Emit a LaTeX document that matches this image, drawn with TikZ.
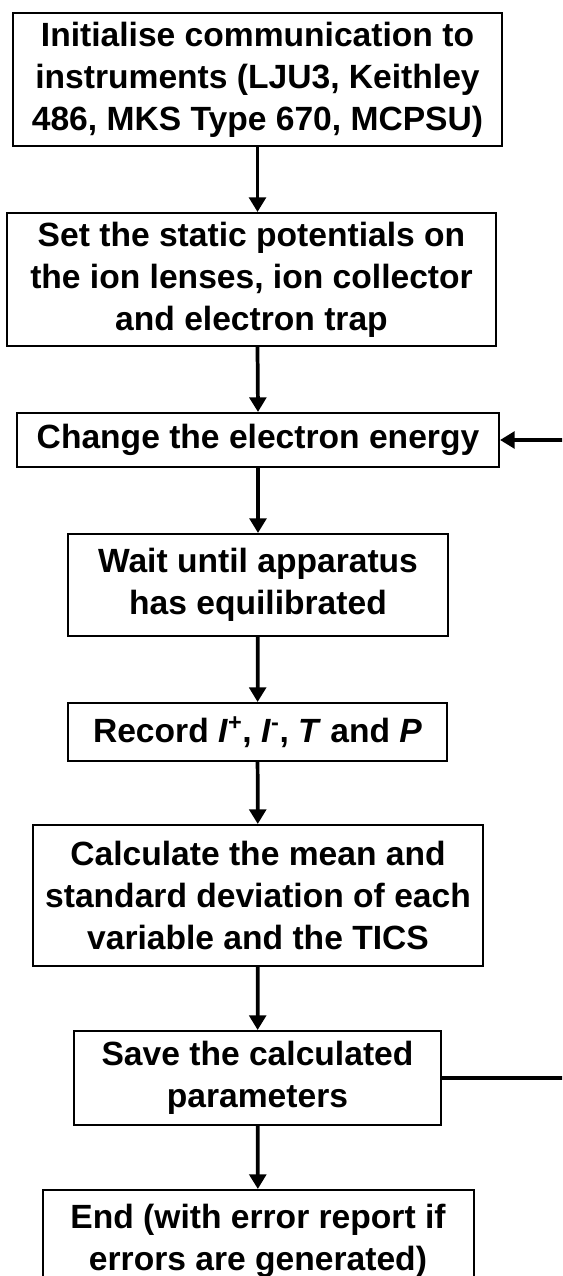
\documentclass[tikz,border=0pt]{standalone}
\usepackage{fontspec}
\setmainfont{Liberation Sans}
\usetikzlibrary{arrows.meta}

\begin{document}
\begin{tikzpicture}[x=0.75pt, y=-0.75pt,
  st/.style={draw=black, line width=1.5pt, align=center, inner sep=0pt,
    font=\fontsize{25.2}{31.5}\selectfont\bfseries},
  arr/.style={-{Triangle[length=11pt,width=12.5pt]}, line width=2.8pt}]
\useasboundingbox (0,0) rectangle (562,1276);
\clip (0,0) rectangle (562,1276);
% boxes, top to bottom
\node[st, minimum width=366.75pt, minimum height=99.75pt] (init) at (257.5,79.5)
  {Initialise communication to\\instruments (LJU3, Keithley\\486, MKS Type 670, MCPSU)};
\node[st, minimum width=366.75pt, minimum height=99.75pt] (setpot) at (251.5,279.5)
  {Set the static potentials on\\the ion lenses, ion collector\\and electron trap};
\node[st, minimum width=361.5pt, minimum height=40.5pt] (energy) at (258,440)
  {Change the electron energy};
\node[st, minimum width=285pt, minimum height=76.5pt] (wait) at (258,585)
  {Wait until apparatus\\has equilibrated};
\node[st, minimum width=284.25pt, minimum height=43.5pt] (rec) at (257.5,732)
  {Record \textit{I}\textsuperscript{+}, \textit{I}\textsuperscript{-}, \textit{T} and \textit{P}};
\node[st, minimum width=337.5pt, minimum height=105.75pt] (calc) at (258,895.5)
  {Calculate the mean and\\standard deviation of each\\variable and the TICS};
\node[st, minimum width=275.25pt, minimum height=70.5pt] (save) at (257.5,1078)
  {Save the calculated\\parameters};
\node[st, minimum width=323.25pt, minimum height=76.5pt] (fin) at (258,1241)
  {End (with error report if\\errors are generated)};
% flow
\draw[arr] (init.south) -- (init.south |- setpot.north);
\draw[arr] (init.south |- setpot.south) -- (energy.north);
\draw[arr] (energy) -- (wait);
\draw[arr] (wait) -- (rec);
\draw[arr] (rec) -- (calc);
\draw[arr] (calc) -- (save);
\draw[arr] (save) -- (fin);
% loop back (runs off the right edge)
\coordinate (back) at (590,760);
\draw[arr] (save.east) -| (back) |- (energy.east);
\end{tikzpicture}
\end{document}
